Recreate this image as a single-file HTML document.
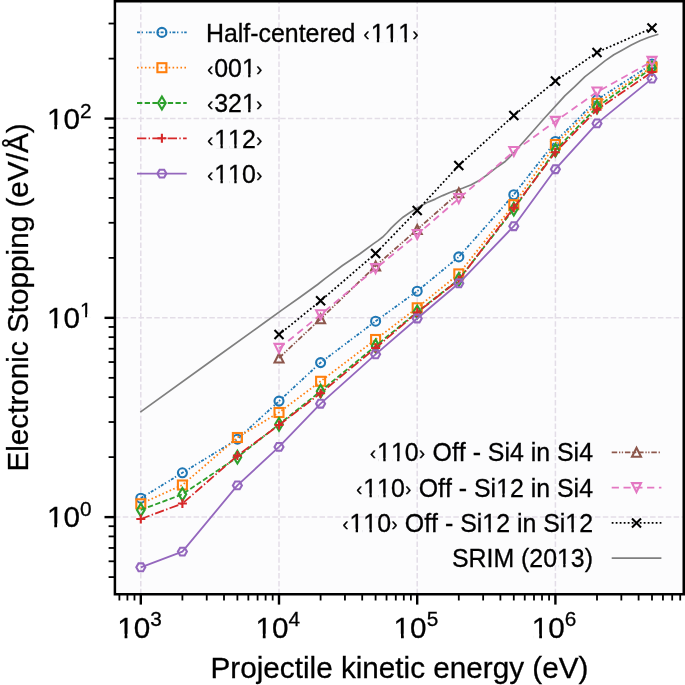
<!DOCTYPE html><html><head><meta charset="utf-8"><style>html,body{margin:0;padding:0;background:#fff;overflow:hidden}svg{display:block;will-change:transform}text{stroke:#000;stroke-width:0.3px}text{font-kerning:none;font-feature-settings:"kern" 0}</style></head><body><svg width="685" height="685" viewBox="0 0 685 685">
<rect width="685" height="685" fill="#ffffff"/>
<rect x="114.9" y="1.25" width="568.85" height="593.05" fill="#fcfcfd"/>
<line x1="140.80" y1="594.3" x2="140.80" y2="1.25" stroke="#e3dde7" stroke-width="1.5" stroke-dasharray="5.5 2.37"/>
<line x1="279.00" y1="594.3" x2="279.00" y2="1.25" stroke="#e3dde7" stroke-width="1.5" stroke-dasharray="5.5 2.37"/>
<line x1="417.20" y1="594.3" x2="417.20" y2="1.25" stroke="#e3dde7" stroke-width="1.5" stroke-dasharray="5.5 2.37"/>
<line x1="555.40" y1="594.3" x2="555.40" y2="1.25" stroke="#e3dde7" stroke-width="1.5" stroke-dasharray="5.5 2.37"/>
<line x1="114.9" y1="517.10" x2="683.75" y2="517.10" stroke="#e3dde7" stroke-width="1.5" stroke-dasharray="5.5 2.37"/>
<line x1="114.9" y1="317.85" x2="683.75" y2="317.85" stroke="#e3dde7" stroke-width="1.5" stroke-dasharray="5.5 2.37"/>
<line x1="114.9" y1="118.60" x2="683.75" y2="118.60" stroke="#e3dde7" stroke-width="1.5" stroke-dasharray="5.5 2.37"/>
<path d="M140.30 412.10L215.00 358.20L265.00 322.30L282.50 309.60L300.00 297.30L317.60 284.50L325.00 278.60L342.50 265.50L360.00 253.70L373.30 243.90L378.00 240.60L382.40 237.30L386.80 233.00L391.10 228.10L395.50 223.80L399.90 219.80L403.00 217.20L410.30 212.20L417.60 207.80L424.90 203.80L428.00 202.10L435.30 199.10L442.60 195.60L449.90 192.50L453.80 191.10L462.50 188.20L471.30 184.70L480.00 179.90L488.80 173.70L497.60 166.70L505.20 161.50L510.30 156.40L515.40 151.00L520.00 145.70L532.50 131.70L545.00 117.50L555.00 106.70L560.00 101.10L565.00 95.60L575.00 86.30L585.00 76.60L595.00 68.90L605.00 60.90L613.80 54.80L622.50 50.00L631.30 45.10L640.00 40.80L648.80 37.30L658.40 34.20" fill="none" stroke="#7f7f7f" stroke-width="1.7" stroke-linejoin="round"/>
<path d="M140.80 498.20L182.40 472.80L237.40 439.20L279.00 401.10L320.60 362.60L375.60 321.20L417.20 291.20L458.80 256.90L513.80 194.70L555.40 141.50L597.00 99.80L652.00 64.00" fill="none" stroke="#1f77b4" stroke-width="1.8" stroke-dasharray="3.0 1.6 1.4 3.0 1.4 1.4" stroke-linejoin="round"/>
<circle cx="140.80" cy="498.20" r="4.50" fill="none" stroke="#1f77b4" stroke-width="2.1"/>
<circle cx="182.40" cy="472.80" r="4.50" fill="none" stroke="#1f77b4" stroke-width="2.1"/>
<circle cx="237.40" cy="439.20" r="4.50" fill="none" stroke="#1f77b4" stroke-width="2.1"/>
<circle cx="279.00" cy="401.10" r="4.50" fill="none" stroke="#1f77b4" stroke-width="2.1"/>
<circle cx="320.60" cy="362.60" r="4.50" fill="none" stroke="#1f77b4" stroke-width="2.1"/>
<circle cx="375.60" cy="321.20" r="4.50" fill="none" stroke="#1f77b4" stroke-width="2.1"/>
<circle cx="417.20" cy="291.20" r="4.50" fill="none" stroke="#1f77b4" stroke-width="2.1"/>
<circle cx="458.80" cy="256.90" r="4.50" fill="none" stroke="#1f77b4" stroke-width="2.1"/>
<circle cx="513.80" cy="194.70" r="4.50" fill="none" stroke="#1f77b4" stroke-width="2.1"/>
<circle cx="555.40" cy="141.50" r="4.50" fill="none" stroke="#1f77b4" stroke-width="2.1"/>
<circle cx="597.00" cy="99.80" r="4.50" fill="none" stroke="#1f77b4" stroke-width="2.1"/>
<circle cx="652.00" cy="64.00" r="4.50" fill="none" stroke="#1f77b4" stroke-width="2.1"/>
<path d="M140.80 503.80L182.40 485.00L237.40 437.50L279.00 412.50L320.60 381.30L375.60 339.50L417.20 307.80L458.80 273.90L513.80 204.70L555.40 144.50L597.00 103.30L652.00 67.00" fill="none" stroke="#ff7f0e" stroke-width="1.8" stroke-dasharray="1.6 2.35" stroke-linejoin="round"/>
<rect x="136.30" y="499.30" width="9.00" height="9.00" fill="none" stroke="#ff7f0e" stroke-width="2.1" stroke-linejoin="miter"/>
<rect x="177.90" y="480.50" width="9.00" height="9.00" fill="none" stroke="#ff7f0e" stroke-width="2.1" stroke-linejoin="miter"/>
<rect x="232.90" y="433.00" width="9.00" height="9.00" fill="none" stroke="#ff7f0e" stroke-width="2.1" stroke-linejoin="miter"/>
<rect x="274.50" y="408.00" width="9.00" height="9.00" fill="none" stroke="#ff7f0e" stroke-width="2.1" stroke-linejoin="miter"/>
<rect x="316.10" y="376.80" width="9.00" height="9.00" fill="none" stroke="#ff7f0e" stroke-width="2.1" stroke-linejoin="miter"/>
<rect x="371.10" y="335.00" width="9.00" height="9.00" fill="none" stroke="#ff7f0e" stroke-width="2.1" stroke-linejoin="miter"/>
<rect x="412.70" y="303.30" width="9.00" height="9.00" fill="none" stroke="#ff7f0e" stroke-width="2.1" stroke-linejoin="miter"/>
<rect x="454.30" y="269.40" width="9.00" height="9.00" fill="none" stroke="#ff7f0e" stroke-width="2.1" stroke-linejoin="miter"/>
<rect x="509.30" y="200.20" width="9.00" height="9.00" fill="none" stroke="#ff7f0e" stroke-width="2.1" stroke-linejoin="miter"/>
<rect x="550.90" y="140.00" width="9.00" height="9.00" fill="none" stroke="#ff7f0e" stroke-width="2.1" stroke-linejoin="miter"/>
<rect x="592.50" y="98.80" width="9.00" height="9.00" fill="none" stroke="#ff7f0e" stroke-width="2.1" stroke-linejoin="miter"/>
<rect x="647.50" y="62.50" width="9.00" height="9.00" fill="none" stroke="#ff7f0e" stroke-width="2.1" stroke-linejoin="miter"/>
<path d="M140.80 509.90L182.40 494.30L237.40 457.20L279.00 424.30L320.60 391.20L375.60 346.00L417.20 312.00L458.80 279.50L513.80 209.10L555.40 150.20L597.00 107.00L652.00 68.10" fill="none" stroke="#2ca02c" stroke-width="1.8" stroke-dasharray="5.3 2.4" stroke-linejoin="round"/>
<path d="M140.80 503.54L144.62 509.90L140.80 516.26L136.98 509.90Z" fill="none" stroke="#2ca02c" stroke-width="2.1" stroke-linejoin="miter"/>
<path d="M182.40 487.94L186.22 494.30L182.40 500.66L178.58 494.30Z" fill="none" stroke="#2ca02c" stroke-width="2.1" stroke-linejoin="miter"/>
<path d="M237.40 450.84L241.22 457.20L237.40 463.56L233.58 457.20Z" fill="none" stroke="#2ca02c" stroke-width="2.1" stroke-linejoin="miter"/>
<path d="M279.00 417.94L282.82 424.30L279.00 430.66L275.18 424.30Z" fill="none" stroke="#2ca02c" stroke-width="2.1" stroke-linejoin="miter"/>
<path d="M320.60 384.84L324.42 391.20L320.60 397.56L316.78 391.20Z" fill="none" stroke="#2ca02c" stroke-width="2.1" stroke-linejoin="miter"/>
<path d="M375.60 339.64L379.42 346.00L375.60 352.36L371.78 346.00Z" fill="none" stroke="#2ca02c" stroke-width="2.1" stroke-linejoin="miter"/>
<path d="M417.20 305.64L421.02 312.00L417.20 318.36L413.38 312.00Z" fill="none" stroke="#2ca02c" stroke-width="2.1" stroke-linejoin="miter"/>
<path d="M458.80 273.14L462.62 279.50L458.80 285.86L454.98 279.50Z" fill="none" stroke="#2ca02c" stroke-width="2.1" stroke-linejoin="miter"/>
<path d="M513.80 202.74L517.62 209.10L513.80 215.46L509.98 209.10Z" fill="none" stroke="#2ca02c" stroke-width="2.1" stroke-linejoin="miter"/>
<path d="M555.40 143.84L559.22 150.20L555.40 156.56L551.58 150.20Z" fill="none" stroke="#2ca02c" stroke-width="2.1" stroke-linejoin="miter"/>
<path d="M597.00 100.64L600.82 107.00L597.00 113.36L593.18 107.00Z" fill="none" stroke="#2ca02c" stroke-width="2.1" stroke-linejoin="miter"/>
<path d="M652.00 61.74L655.82 68.10L652.00 74.46L648.18 68.10Z" fill="none" stroke="#2ca02c" stroke-width="2.1" stroke-linejoin="miter"/>
<path d="M140.80 519.00L182.40 503.50L237.40 455.60L279.00 425.00L320.60 393.20L375.60 348.00L417.20 312.50L458.80 280.00L513.80 207.70L555.40 152.30L597.00 109.70L652.00 72.00" fill="none" stroke="#d62728" stroke-width="1.8" stroke-dasharray="9.3 2.3 1.45 2.3" stroke-linejoin="round"/>
<path d="M136.30 519.00H145.30M140.80 514.50V523.50" stroke="#d62728" stroke-width="2.1"/>
<path d="M177.90 503.50H186.90M182.40 499.00V508.00" stroke="#d62728" stroke-width="2.1"/>
<path d="M232.90 455.60H241.90M237.40 451.10V460.10" stroke="#d62728" stroke-width="2.1"/>
<path d="M274.50 425.00H283.50M279.00 420.50V429.50" stroke="#d62728" stroke-width="2.1"/>
<path d="M316.10 393.20H325.10M320.60 388.70V397.70" stroke="#d62728" stroke-width="2.1"/>
<path d="M371.10 348.00H380.10M375.60 343.50V352.50" stroke="#d62728" stroke-width="2.1"/>
<path d="M412.70 312.50H421.70M417.20 308.00V317.00" stroke="#d62728" stroke-width="2.1"/>
<path d="M454.30 280.00H463.30M458.80 275.50V284.50" stroke="#d62728" stroke-width="2.1"/>
<path d="M509.30 207.70H518.30M513.80 203.20V212.20" stroke="#d62728" stroke-width="2.1"/>
<path d="M550.90 152.30H559.90M555.40 147.80V156.80" stroke="#d62728" stroke-width="2.1"/>
<path d="M592.50 109.70H601.50M597.00 105.20V114.20" stroke="#d62728" stroke-width="2.1"/>
<path d="M647.50 72.00H656.50M652.00 67.50V76.50" stroke="#d62728" stroke-width="2.1"/>
<path d="M140.80 567.30L182.40 551.60L237.40 485.40L279.00 446.90L320.60 403.70L375.60 354.30L417.20 318.50L458.80 283.30L513.80 226.20L555.40 169.20L597.00 123.40L652.00 78.60" fill="none" stroke="#9467bd" stroke-width="1.8" stroke-linejoin="round"/>
<polygon points="145.30,567.30 143.05,563.40 138.55,563.40 136.30,567.30 138.55,571.20 143.05,571.20" fill="none" stroke="#9467bd" stroke-width="2.1" stroke-linejoin="miter"/>
<polygon points="186.90,551.60 184.65,547.70 180.15,547.70 177.90,551.60 180.15,555.50 184.65,555.50" fill="none" stroke="#9467bd" stroke-width="2.1" stroke-linejoin="miter"/>
<polygon points="241.90,485.40 239.65,481.50 235.15,481.50 232.90,485.40 235.15,489.30 239.65,489.30" fill="none" stroke="#9467bd" stroke-width="2.1" stroke-linejoin="miter"/>
<polygon points="283.50,446.90 281.25,443.00 276.75,443.00 274.50,446.90 276.75,450.80 281.25,450.80" fill="none" stroke="#9467bd" stroke-width="2.1" stroke-linejoin="miter"/>
<polygon points="325.10,403.70 322.85,399.80 318.35,399.80 316.10,403.70 318.35,407.60 322.85,407.60" fill="none" stroke="#9467bd" stroke-width="2.1" stroke-linejoin="miter"/>
<polygon points="380.10,354.30 377.85,350.40 373.35,350.40 371.10,354.30 373.35,358.20 377.85,358.20" fill="none" stroke="#9467bd" stroke-width="2.1" stroke-linejoin="miter"/>
<polygon points="421.70,318.50 419.45,314.60 414.95,314.60 412.70,318.50 414.95,322.40 419.45,322.40" fill="none" stroke="#9467bd" stroke-width="2.1" stroke-linejoin="miter"/>
<polygon points="463.30,283.30 461.05,279.40 456.55,279.40 454.30,283.30 456.55,287.20 461.05,287.20" fill="none" stroke="#9467bd" stroke-width="2.1" stroke-linejoin="miter"/>
<polygon points="518.30,226.20 516.05,222.30 511.55,222.30 509.30,226.20 511.55,230.10 516.05,230.10" fill="none" stroke="#9467bd" stroke-width="2.1" stroke-linejoin="miter"/>
<polygon points="559.90,169.20 557.65,165.30 553.15,165.30 550.90,169.20 553.15,173.10 557.65,173.10" fill="none" stroke="#9467bd" stroke-width="2.1" stroke-linejoin="miter"/>
<polygon points="601.50,123.40 599.25,119.50 594.75,119.50 592.50,123.40 594.75,127.30 599.25,127.30" fill="none" stroke="#9467bd" stroke-width="2.1" stroke-linejoin="miter"/>
<polygon points="656.50,78.60 654.25,74.70 649.75,74.70 647.50,78.60 649.75,82.50 654.25,82.50" fill="none" stroke="#9467bd" stroke-width="2.1" stroke-linejoin="miter"/>
<path d="M279.00 358.00L320.60 318.80L375.60 266.00L417.20 229.50L458.80 192.80" fill="none" stroke="#8c564b" stroke-width="1.8" stroke-dasharray="5.5 1.8 1.3 1.5 1.3 1.8" stroke-linejoin="round"/>
<path d="M279.00 353.50L283.50 362.50L274.50 362.50Z" fill="none" stroke="#8c564b" stroke-width="2.1" stroke-linejoin="miter"/>
<path d="M320.60 314.30L325.10 323.30L316.10 323.30Z" fill="none" stroke="#8c564b" stroke-width="2.1" stroke-linejoin="miter"/>
<path d="M375.60 261.50L380.10 270.50L371.10 270.50Z" fill="none" stroke="#8c564b" stroke-width="2.1" stroke-linejoin="miter"/>
<path d="M417.20 225.00L421.70 234.00L412.70 234.00Z" fill="none" stroke="#8c564b" stroke-width="2.1" stroke-linejoin="miter"/>
<path d="M458.80 188.30L463.30 197.30L454.30 197.30Z" fill="none" stroke="#8c564b" stroke-width="2.1" stroke-linejoin="miter"/>
<path d="M279.00 348.40L320.60 314.70L375.60 268.60L417.20 234.50L458.80 198.60L513.80 151.50L555.40 121.40L597.00 92.00L652.00 61.40" fill="none" stroke="#e377c2" stroke-width="1.8" stroke-dasharray="7.2 4.6" stroke-linejoin="round"/>
<path d="M279.00 352.90L283.50 343.90L274.50 343.90Z" fill="none" stroke="#e377c2" stroke-width="2.1" stroke-linejoin="miter"/>
<path d="M320.60 319.20L325.10 310.20L316.10 310.20Z" fill="none" stroke="#e377c2" stroke-width="2.1" stroke-linejoin="miter"/>
<path d="M375.60 273.10L380.10 264.10L371.10 264.10Z" fill="none" stroke="#e377c2" stroke-width="2.1" stroke-linejoin="miter"/>
<path d="M417.20 239.00L421.70 230.00L412.70 230.00Z" fill="none" stroke="#e377c2" stroke-width="2.1" stroke-linejoin="miter"/>
<path d="M458.80 203.10L463.30 194.10L454.30 194.10Z" fill="none" stroke="#e377c2" stroke-width="2.1" stroke-linejoin="miter"/>
<path d="M513.80 156.00L518.30 147.00L509.30 147.00Z" fill="none" stroke="#e377c2" stroke-width="2.1" stroke-linejoin="miter"/>
<path d="M555.40 125.90L559.90 116.90L550.90 116.90Z" fill="none" stroke="#e377c2" stroke-width="2.1" stroke-linejoin="miter"/>
<path d="M597.00 96.50L601.50 87.50L592.50 87.50Z" fill="none" stroke="#e377c2" stroke-width="2.1" stroke-linejoin="miter"/>
<path d="M652.00 65.90L656.50 56.90L647.50 56.90Z" fill="none" stroke="#e377c2" stroke-width="2.1" stroke-linejoin="miter"/>
<path d="M279.00 334.60L320.60 300.80L375.60 253.50L417.20 210.50L458.80 165.50L513.80 115.50L555.40 81.00L597.00 52.40L652.00 28.10" fill="none" stroke="#000000" stroke-width="1.8" stroke-dasharray="1.8 2.2" stroke-linejoin="round"/>
<path d="M274.50 330.10L283.50 339.10M274.50 339.10L283.50 330.10" stroke="#000000" stroke-width="2.1"/>
<path d="M316.10 296.30L325.10 305.30M316.10 305.30L325.10 296.30" stroke="#000000" stroke-width="2.1"/>
<path d="M371.10 249.00L380.10 258.00M371.10 258.00L380.10 249.00" stroke="#000000" stroke-width="2.1"/>
<path d="M412.70 206.00L421.70 215.00M412.70 215.00L421.70 206.00" stroke="#000000" stroke-width="2.1"/>
<path d="M454.30 161.00L463.30 170.00M454.30 170.00L463.30 161.00" stroke="#000000" stroke-width="2.1"/>
<path d="M509.30 111.00L518.30 120.00M509.30 120.00L518.30 111.00" stroke="#000000" stroke-width="2.1"/>
<path d="M550.90 76.50L559.90 85.50M550.90 85.50L559.90 76.50" stroke="#000000" stroke-width="2.1"/>
<path d="M592.50 47.90L601.50 56.90M592.50 56.90L601.50 47.90" stroke="#000000" stroke-width="2.1"/>
<path d="M647.50 23.60L656.50 32.60M647.50 32.60L656.50 23.60" stroke="#000000" stroke-width="2.1"/>
<path d="M137.00 32.40L186.70 32.40" fill="none" stroke="#1f77b4" stroke-width="1.8" stroke-dasharray="3.0 1.6 1.4 3.0 1.4 1.4" stroke-linejoin="round"/>
<circle cx="161.90" cy="32.40" r="4.50" fill="none" stroke="#1f77b4" stroke-width="2.1"/>
<text x="206.0" y="41.60" font-size="24.9" font-family='"Liberation Sans", sans-serif'>Half-centered <tspan font-size="17.93" stroke="#000" stroke-width="0.35" dx="1.21" dy="-1.84">‹</tspan><tspan dx="1.11" dy="1.84">111</tspan><tspan font-size="17.93" stroke="#000" stroke-width="0.35" dx="0.46" dy="-1.84">›</tspan><tspan dx="1.86" dy="1.84"></tspan></text>
<path d="M137.00 67.70L186.70 67.70" fill="none" stroke="#ff7f0e" stroke-width="1.8" stroke-dasharray="1.6 2.35" stroke-linejoin="round"/>
<rect x="157.40" y="63.20" width="9.00" height="9.00" fill="none" stroke="#ff7f0e" stroke-width="2.1" stroke-linejoin="miter"/>
<text x="206.0" y="76.90" font-size="24.9" font-family='"Liberation Sans", sans-serif'><tspan font-size="17.93" stroke="#000" stroke-width="0.35" dx="1.21" dy="-1.84">‹</tspan><tspan dx="1.11" dy="1.84">001</tspan><tspan font-size="17.93" stroke="#000" stroke-width="0.35" dx="0.46" dy="-1.84">›</tspan><tspan dx="1.86" dy="1.84"></tspan></text>
<path d="M137.00 103.00L186.70 103.00" fill="none" stroke="#2ca02c" stroke-width="1.8" stroke-dasharray="5.3 2.4" stroke-linejoin="round"/>
<path d="M161.90 96.64L165.72 103.00L161.90 109.36L158.08 103.00Z" fill="none" stroke="#2ca02c" stroke-width="2.1" stroke-linejoin="miter"/>
<text x="206.0" y="112.20" font-size="24.9" font-family='"Liberation Sans", sans-serif'><tspan font-size="17.93" stroke="#000" stroke-width="0.35" dx="1.21" dy="-1.84">‹</tspan><tspan dx="1.11" dy="1.84">321</tspan><tspan font-size="17.93" stroke="#000" stroke-width="0.35" dx="0.46" dy="-1.84">›</tspan><tspan dx="1.86" dy="1.84"></tspan></text>
<path d="M137.00 138.30L186.70 138.30" fill="none" stroke="#d62728" stroke-width="1.8" stroke-dasharray="9.3 2.3 1.45 2.3" stroke-linejoin="round"/>
<path d="M157.40 138.30H166.40M161.90 133.80V142.80" stroke="#d62728" stroke-width="2.1"/>
<text x="206.0" y="147.50" font-size="24.9" font-family='"Liberation Sans", sans-serif'><tspan font-size="17.93" stroke="#000" stroke-width="0.35" dx="1.21" dy="-1.84">‹</tspan><tspan dx="1.11" dy="1.84">112</tspan><tspan font-size="17.93" stroke="#000" stroke-width="0.35" dx="0.46" dy="-1.84">›</tspan><tspan dx="1.86" dy="1.84"></tspan></text>
<path d="M137.00 173.60L186.70 173.60" fill="none" stroke="#9467bd" stroke-width="1.8" stroke-linejoin="round"/>
<polygon points="166.40,173.60 164.15,169.70 159.65,169.70 157.40,173.60 159.65,177.50 164.15,177.50" fill="none" stroke="#9467bd" stroke-width="2.1" stroke-linejoin="miter"/>
<text x="206.0" y="182.80" font-size="24.9" font-family='"Liberation Sans", sans-serif'><tspan font-size="17.93" stroke="#000" stroke-width="0.35" dx="1.21" dy="-1.84">‹</tspan><tspan dx="1.11" dy="1.84">110</tspan><tspan font-size="17.93" stroke="#000" stroke-width="0.35" dx="0.46" dy="-1.84">›</tspan><tspan dx="1.86" dy="1.84"></tspan></text>
<path d="M611.70 452.30L661.40 452.30" fill="none" stroke="#8c564b" stroke-width="1.8" stroke-dasharray="5.5 1.8 1.3 1.5 1.3 1.8" stroke-linejoin="round"/>
<path d="M636.50 447.80L641.00 456.80L632.00 456.80Z" fill="none" stroke="#8c564b" stroke-width="2.1" stroke-linejoin="miter"/>
<text x="368.80" y="461.30" font-size="24.9" font-family='"Liberation Sans", sans-serif'><tspan font-size="17.93" stroke="#000" stroke-width="0.35" dx="1.21" dy="-1.84">‹</tspan><tspan dx="1.11" dy="1.84">110</tspan><tspan font-size="17.93" stroke="#000" stroke-width="0.35" dx="0.46" dy="-1.84">›</tspan><tspan dx="1.86" dy="1.84"></tspan></text>
<text x="593.0" y="461.30" text-anchor="end" font-size="24.9" font-family='"Liberation Sans", sans-serif'>Off - Si4 in Si4</text>
<path d="M611.70 487.60L661.40 487.60" fill="none" stroke="#e377c2" stroke-width="1.8" stroke-dasharray="7.2 4.6" stroke-linejoin="round"/>
<path d="M636.50 492.10L641.00 483.10L632.00 483.10Z" fill="none" stroke="#e377c2" stroke-width="2.1" stroke-linejoin="miter"/>
<text x="355.00" y="496.60" font-size="24.9" font-family='"Liberation Sans", sans-serif'><tspan font-size="17.93" stroke="#000" stroke-width="0.35" dx="1.21" dy="-1.84">‹</tspan><tspan dx="1.11" dy="1.84">110</tspan><tspan font-size="17.93" stroke="#000" stroke-width="0.35" dx="0.46" dy="-1.84">›</tspan><tspan dx="1.86" dy="1.84"></tspan></text>
<text x="593.0" y="496.60" text-anchor="end" font-size="24.9" font-family='"Liberation Sans", sans-serif'>Off - Si12 in Si4</text>
<path d="M611.70 522.90L661.40 522.90" fill="none" stroke="#000000" stroke-width="1.8" stroke-dasharray="1.8 2.2" stroke-linejoin="round"/>
<path d="M632.00 518.40L641.00 527.40M632.00 527.40L641.00 518.40" stroke="#000000" stroke-width="2.1"/>
<text x="341.20" y="531.90" font-size="24.9" font-family='"Liberation Sans", sans-serif'><tspan font-size="17.93" stroke="#000" stroke-width="0.35" dx="1.21" dy="-1.84">‹</tspan><tspan dx="1.11" dy="1.84">110</tspan><tspan font-size="17.93" stroke="#000" stroke-width="0.35" dx="0.46" dy="-1.84">›</tspan><tspan dx="1.86" dy="1.84"></tspan></text>
<text x="593.0" y="531.90" text-anchor="end" font-size="24.9" font-family='"Liberation Sans", sans-serif'>Off - Si12 in Si12</text>
<path d="M611.70 558.20L661.40 558.20" fill="none" stroke="#7f7f7f" stroke-width="1.7" stroke-linejoin="round"/>
<text x="593.0" y="567.20" text-anchor="end" font-size="24.9" font-family='"Liberation Sans", sans-serif'>SRIM (2013)</text>
<path d="M114.9 1.25V594.3H683.75V1.25Z" fill="none" stroke="#000" stroke-width="2.5" stroke-linejoin="miter"/>
<line x1="119.39" y1="594.3" x2="119.39" y2="600.5" stroke="#000" stroke-width="1.8"/>
<line x1="127.41" y1="594.3" x2="127.41" y2="600.5" stroke="#000" stroke-width="1.8"/>
<line x1="134.48" y1="594.3" x2="134.48" y2="600.5" stroke="#000" stroke-width="1.8"/>
<line x1="140.80" y1="594.3" x2="140.80" y2="604.6" stroke="#000" stroke-width="2.4"/>
<line x1="182.40" y1="594.3" x2="182.40" y2="600.5" stroke="#000" stroke-width="1.8"/>
<line x1="206.74" y1="594.3" x2="206.74" y2="600.5" stroke="#000" stroke-width="1.8"/>
<line x1="224.00" y1="594.3" x2="224.00" y2="600.5" stroke="#000" stroke-width="1.8"/>
<line x1="237.40" y1="594.3" x2="237.40" y2="600.5" stroke="#000" stroke-width="1.8"/>
<line x1="248.34" y1="594.3" x2="248.34" y2="600.5" stroke="#000" stroke-width="1.8"/>
<line x1="257.59" y1="594.3" x2="257.59" y2="600.5" stroke="#000" stroke-width="1.8"/>
<line x1="265.61" y1="594.3" x2="265.61" y2="600.5" stroke="#000" stroke-width="1.8"/>
<line x1="272.68" y1="594.3" x2="272.68" y2="600.5" stroke="#000" stroke-width="1.8"/>
<line x1="279.00" y1="594.3" x2="279.00" y2="604.6" stroke="#000" stroke-width="2.4"/>
<line x1="320.60" y1="594.3" x2="320.60" y2="600.5" stroke="#000" stroke-width="1.8"/>
<line x1="344.94" y1="594.3" x2="344.94" y2="600.5" stroke="#000" stroke-width="1.8"/>
<line x1="362.20" y1="594.3" x2="362.20" y2="600.5" stroke="#000" stroke-width="1.8"/>
<line x1="375.60" y1="594.3" x2="375.60" y2="600.5" stroke="#000" stroke-width="1.8"/>
<line x1="386.54" y1="594.3" x2="386.54" y2="600.5" stroke="#000" stroke-width="1.8"/>
<line x1="395.79" y1="594.3" x2="395.79" y2="600.5" stroke="#000" stroke-width="1.8"/>
<line x1="403.81" y1="594.3" x2="403.81" y2="600.5" stroke="#000" stroke-width="1.8"/>
<line x1="410.88" y1="594.3" x2="410.88" y2="600.5" stroke="#000" stroke-width="1.8"/>
<line x1="417.20" y1="594.3" x2="417.20" y2="604.6" stroke="#000" stroke-width="2.4"/>
<line x1="458.80" y1="594.3" x2="458.80" y2="600.5" stroke="#000" stroke-width="1.8"/>
<line x1="483.14" y1="594.3" x2="483.14" y2="600.5" stroke="#000" stroke-width="1.8"/>
<line x1="500.40" y1="594.3" x2="500.40" y2="600.5" stroke="#000" stroke-width="1.8"/>
<line x1="513.80" y1="594.3" x2="513.80" y2="600.5" stroke="#000" stroke-width="1.8"/>
<line x1="524.74" y1="594.3" x2="524.74" y2="600.5" stroke="#000" stroke-width="1.8"/>
<line x1="533.99" y1="594.3" x2="533.99" y2="600.5" stroke="#000" stroke-width="1.8"/>
<line x1="542.01" y1="594.3" x2="542.01" y2="600.5" stroke="#000" stroke-width="1.8"/>
<line x1="549.08" y1="594.3" x2="549.08" y2="600.5" stroke="#000" stroke-width="1.8"/>
<line x1="555.40" y1="594.3" x2="555.40" y2="604.6" stroke="#000" stroke-width="2.4"/>
<line x1="597.00" y1="594.3" x2="597.00" y2="600.5" stroke="#000" stroke-width="1.8"/>
<line x1="621.34" y1="594.3" x2="621.34" y2="600.5" stroke="#000" stroke-width="1.8"/>
<line x1="638.60" y1="594.3" x2="638.60" y2="600.5" stroke="#000" stroke-width="1.8"/>
<line x1="652.00" y1="594.3" x2="652.00" y2="600.5" stroke="#000" stroke-width="1.8"/>
<line x1="662.94" y1="594.3" x2="662.94" y2="600.5" stroke="#000" stroke-width="1.8"/>
<line x1="672.19" y1="594.3" x2="672.19" y2="600.5" stroke="#000" stroke-width="1.8"/>
<line x1="680.21" y1="594.3" x2="680.21" y2="600.5" stroke="#000" stroke-width="1.8"/>
<line x1="114.9" y1="577.08" x2="108.6" y2="577.08" stroke="#000" stroke-width="1.8"/>
<line x1="114.9" y1="561.30" x2="108.6" y2="561.30" stroke="#000" stroke-width="1.8"/>
<line x1="114.9" y1="547.96" x2="108.6" y2="547.96" stroke="#000" stroke-width="1.8"/>
<line x1="114.9" y1="536.41" x2="108.6" y2="536.41" stroke="#000" stroke-width="1.8"/>
<line x1="114.9" y1="526.22" x2="108.6" y2="526.22" stroke="#000" stroke-width="1.8"/>
<line x1="114.9" y1="517.10" x2="104.5" y2="517.10" stroke="#000" stroke-width="2.4"/>
<line x1="114.9" y1="457.12" x2="108.6" y2="457.12" stroke="#000" stroke-width="1.8"/>
<line x1="114.9" y1="422.03" x2="108.6" y2="422.03" stroke="#000" stroke-width="1.8"/>
<line x1="114.9" y1="397.14" x2="108.6" y2="397.14" stroke="#000" stroke-width="1.8"/>
<line x1="114.9" y1="377.83" x2="108.6" y2="377.83" stroke="#000" stroke-width="1.8"/>
<line x1="114.9" y1="362.05" x2="108.6" y2="362.05" stroke="#000" stroke-width="1.8"/>
<line x1="114.9" y1="348.71" x2="108.6" y2="348.71" stroke="#000" stroke-width="1.8"/>
<line x1="114.9" y1="337.16" x2="108.6" y2="337.16" stroke="#000" stroke-width="1.8"/>
<line x1="114.9" y1="326.97" x2="108.6" y2="326.97" stroke="#000" stroke-width="1.8"/>
<line x1="114.9" y1="317.85" x2="104.5" y2="317.85" stroke="#000" stroke-width="2.4"/>
<line x1="114.9" y1="257.87" x2="108.6" y2="257.87" stroke="#000" stroke-width="1.8"/>
<line x1="114.9" y1="222.78" x2="108.6" y2="222.78" stroke="#000" stroke-width="1.8"/>
<line x1="114.9" y1="197.89" x2="108.6" y2="197.89" stroke="#000" stroke-width="1.8"/>
<line x1="114.9" y1="178.58" x2="108.6" y2="178.58" stroke="#000" stroke-width="1.8"/>
<line x1="114.9" y1="162.80" x2="108.6" y2="162.80" stroke="#000" stroke-width="1.8"/>
<line x1="114.9" y1="149.46" x2="108.6" y2="149.46" stroke="#000" stroke-width="1.8"/>
<line x1="114.9" y1="137.91" x2="108.6" y2="137.91" stroke="#000" stroke-width="1.8"/>
<line x1="114.9" y1="127.72" x2="108.6" y2="127.72" stroke="#000" stroke-width="1.8"/>
<line x1="114.9" y1="118.60" x2="104.5" y2="118.60" stroke="#000" stroke-width="2.4"/>
<line x1="114.9" y1="58.62" x2="108.6" y2="58.62" stroke="#000" stroke-width="1.8"/>
<line x1="114.9" y1="23.53" x2="108.6" y2="23.53" stroke="#000" stroke-width="1.8"/>
<text x="139.50" y="637.50" text-anchor="middle" font-size="29.7" font-family='"Liberation Sans", sans-serif'>10<tspan font-size="20.79" dy="-11.29">3</tspan></text>
<text x="277.70" y="637.50" text-anchor="middle" font-size="29.7" font-family='"Liberation Sans", sans-serif'>10<tspan font-size="20.79" dy="-11.29">4</tspan></text>
<text x="415.90" y="637.50" text-anchor="middle" font-size="29.7" font-family='"Liberation Sans", sans-serif'>10<tspan font-size="20.79" dy="-11.29">5</tspan></text>
<text x="554.10" y="637.50" text-anchor="middle" font-size="29.7" font-family='"Liberation Sans", sans-serif'>10<tspan font-size="20.79" dy="-11.29">6</tspan></text>
<text x="91.50" y="527.30" text-anchor="end" font-size="29.7" font-family='"Liberation Sans", sans-serif'>10<tspan font-size="20.79" dy="-11.29">0</tspan></text>
<text x="91.50" y="328.05" text-anchor="end" font-size="29.7" font-family='"Liberation Sans", sans-serif'>10<tspan font-size="20.79" dy="-11.29">1</tspan></text>
<text x="91.50" y="128.80" text-anchor="end" font-size="29.7" font-family='"Liberation Sans", sans-serif'>10<tspan font-size="20.79" dy="-11.29">2</tspan></text>
<text x="399.5" y="678.3" text-anchor="middle" font-size="29.7" font-family='"Liberation Sans", sans-serif'>Projectile kinetic energy (eV)</text>
<text transform="translate(28.0 297.5) rotate(-90)" x="0" y="0" text-anchor="middle" font-size="29.7" font-family='"Liberation Sans", sans-serif'>Electronic Stopping (eV/Å)</text>
<rect x="371.80" y="38.44" width="5.02" height="4.50" fill="#fcfcfd"/>
<rect x="379.17" y="38.44" width="4.83" height="4.50" fill="#fcfcfd"/>
<rect x="385.63" y="38.44" width="5.02" height="4.50" fill="#fcfcfd"/>
<rect x="393.00" y="38.44" width="4.83" height="4.50" fill="#fcfcfd"/>
<rect x="399.47" y="38.44" width="5.02" height="4.50" fill="#fcfcfd"/>
<rect x="406.84" y="38.44" width="4.83" height="4.50" fill="#fcfcfd"/>
<rect x="243.13" y="73.74" width="5.02" height="4.50" fill="#fcfcfd"/>
<rect x="250.50" y="73.74" width="4.83" height="4.50" fill="#fcfcfd"/>
<rect x="243.13" y="109.04" width="5.02" height="4.50" fill="#fcfcfd"/>
<rect x="250.50" y="109.04" width="4.83" height="4.50" fill="#fcfcfd"/>
<rect x="215.46" y="144.34" width="5.02" height="4.50" fill="#fcfcfd"/>
<rect x="222.82" y="144.34" width="4.83" height="4.50" fill="#fcfcfd"/>
<rect x="229.28" y="144.34" width="5.02" height="4.50" fill="#fcfcfd"/>
<rect x="236.65" y="144.34" width="4.83" height="4.50" fill="#fcfcfd"/>
<rect x="215.46" y="179.64" width="5.02" height="4.50" fill="#fcfcfd"/>
<rect x="222.82" y="179.64" width="4.83" height="4.50" fill="#fcfcfd"/>
<rect x="229.28" y="179.64" width="5.02" height="4.50" fill="#fcfcfd"/>
<rect x="236.65" y="179.64" width="4.83" height="4.50" fill="#fcfcfd"/>
<rect x="378.26" y="458.14" width="5.02" height="4.50" fill="#fcfcfd"/>
<rect x="385.62" y="458.14" width="4.83" height="4.50" fill="#fcfcfd"/>
<rect x="392.08" y="458.14" width="5.02" height="4.50" fill="#fcfcfd"/>
<rect x="399.45" y="458.14" width="4.83" height="4.50" fill="#fcfcfd"/>
<rect x="364.46" y="493.44" width="5.02" height="4.50" fill="#fcfcfd"/>
<rect x="371.82" y="493.44" width="4.83" height="4.50" fill="#fcfcfd"/>
<rect x="378.28" y="493.44" width="5.02" height="4.50" fill="#fcfcfd"/>
<rect x="385.65" y="493.44" width="4.83" height="4.50" fill="#fcfcfd"/>
<rect x="497.29" y="493.44" width="5.02" height="4.50" fill="#fcfcfd"/>
<rect x="504.66" y="493.44" width="4.83" height="4.50" fill="#fcfcfd"/>
<rect x="350.66" y="528.74" width="5.02" height="4.50" fill="#fcfcfd"/>
<rect x="358.02" y="528.74" width="4.83" height="4.50" fill="#fcfcfd"/>
<rect x="364.48" y="528.74" width="5.02" height="4.50" fill="#fcfcfd"/>
<rect x="371.85" y="528.74" width="4.83" height="4.50" fill="#fcfcfd"/>
<rect x="483.45" y="528.74" width="5.02" height="4.50" fill="#fcfcfd"/>
<rect x="490.82" y="528.74" width="4.83" height="4.50" fill="#fcfcfd"/>
<rect x="566.46" y="528.74" width="5.02" height="4.50" fill="#fcfcfd"/>
<rect x="573.83" y="528.74" width="4.83" height="4.50" fill="#fcfcfd"/>
<rect x="558.18" y="564.04" width="5.02" height="4.50" fill="#fcfcfd"/>
<rect x="565.55" y="564.04" width="4.83" height="4.50" fill="#fcfcfd"/>
<rect x="118.60" y="633.73" width="5.99" height="5.37" fill="#ffffff"/>
<rect x="127.38" y="633.73" width="5.76" height="5.37" fill="#ffffff"/>
<rect x="256.80" y="633.73" width="5.99" height="5.37" fill="#ffffff"/>
<rect x="265.58" y="633.73" width="5.76" height="5.37" fill="#ffffff"/>
<rect x="395.00" y="633.73" width="5.99" height="5.37" fill="#ffffff"/>
<rect x="403.78" y="633.73" width="5.76" height="5.37" fill="#ffffff"/>
<rect x="533.20" y="633.73" width="5.99" height="5.37" fill="#ffffff"/>
<rect x="541.98" y="633.73" width="5.76" height="5.37" fill="#ffffff"/>
<rect x="48.30" y="523.53" width="5.99" height="5.37" fill="#ffffff"/>
<rect x="57.09" y="523.53" width="5.76" height="5.37" fill="#ffffff"/>
<rect x="48.30" y="324.28" width="5.99" height="5.37" fill="#ffffff"/>
<rect x="57.09" y="324.28" width="5.76" height="5.37" fill="#ffffff"/>
<rect x="80.91" y="314.12" width="4.19" height="3.76" fill="#ffffff"/>
<rect x="87.06" y="314.12" width="4.03" height="3.76" fill="#ffffff"/>
<rect x="48.30" y="125.03" width="5.99" height="5.37" fill="#ffffff"/>
<rect x="57.09" y="125.03" width="5.76" height="5.37" fill="#ffffff"/>
</svg></body></html>
